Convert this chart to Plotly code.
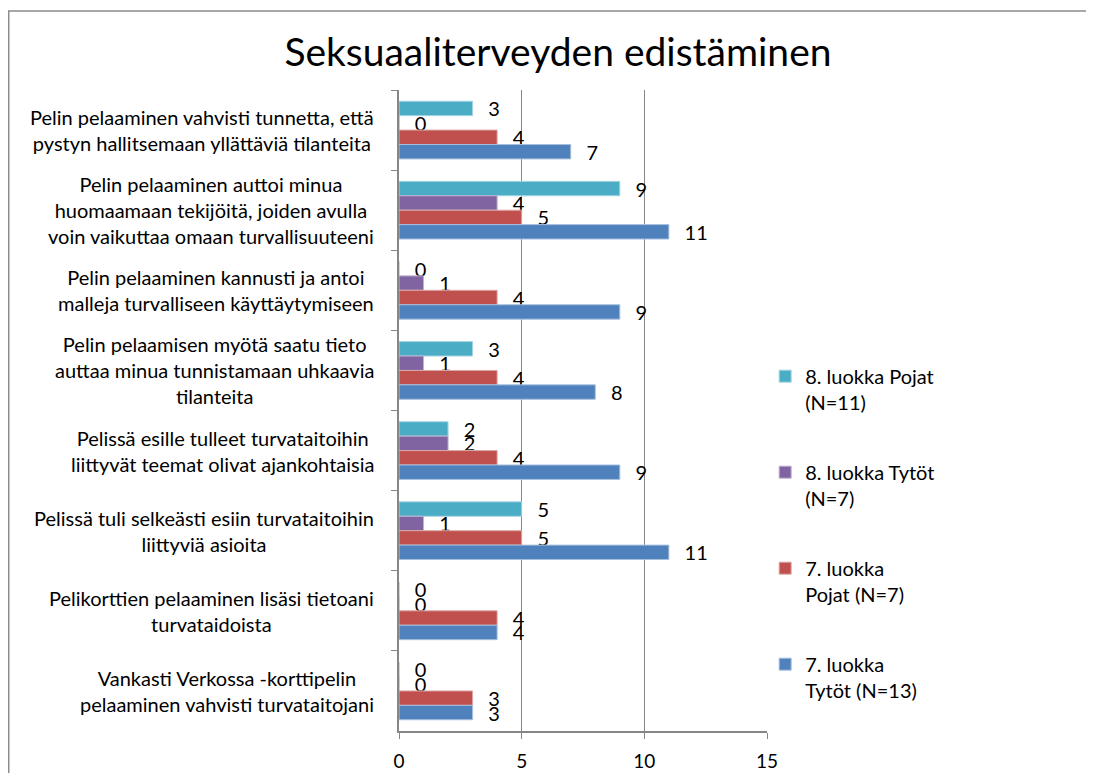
import plotly.graph_objects as go

# Categories, top to bottom
categories = [
    "Pelin pelaaminen vahvisti tunnetta, että<br>pystyn hallitsemaan yllättäviä tilanteita",
    "Pelin pelaaminen auttoi minua<br>huomaamaan tekijöitä, joiden avulla<br>voin vaikuttaa omaan turvallisuuteeni",
    "Pelin pelaaminen kannusti ja antoi<br>malleja turvalliseen käyttäytymiseen",
    "Pelin pelaamisen myötä saatu tieto<br>auttaa minua tunnistamaan uhkaavia<br>tilanteita",
    "Pelissä esille tulleet turvataitoihin<br>liittyvät teemat olivat ajankohtaisia",
    "Pelissä tuli selkeästi esiin turvataitoihin<br>liittyviä asioita",
    "Pelikorttien pelaaminen lisäsi tietoani<br>turvataidoista",
    "Vankasti Verkossa -korttipelin<br>pelaaminen vahvisti turvataitojani",
]

# Series values
pojat_8 = [3, 9, 0, 3, 2, 5, 0, 0]
tytot_8 = [0, 4, 1, 1, 2, 1, 0, 0]
pojat_7 = [4, 5, 4, 4, 4, 5, 4, 3]
tytot_7 = [7, 11, 9, 8, 9, 11, 4, 3]

series_names = [
    "8. luokka Pojat<br>(N=11)",
    "8. luokka Tytöt<br>(N=7)",
    "7. luokka<br>Pojat (N=7)",
    "7. luokka<br>Tytöt (N=13)",
]
x_ticks = [0, 5, 10, 15]

FONT = "Lato, 'Open Sans', sans-serif"
colors = ["#4BACC6", "#8064A2", "#C0504D", "#4F81BD"]
edges = ["#A5D5E2", "#BFB1D0", "#DFA7A6", "#A7C0DE"]

fig = go.Figure()
for i, (name, vals) in enumerate(zip(series_names, [pojat_8, tytot_8, pojat_7, tytot_7])):
    fig.add_trace(go.Bar(
        x=vals,
        y=categories,
        name=name,
        orientation="h",
        legendgroup=f"g{i}",
        marker=dict(color=colors[i], line=dict(color=edges[i], width=1)),
        texttemplate="\u00a0\u00a0\u2009%{x}",
        textposition="outside",
        constraintext="none",
        cliponaxis=False,
        textfont=dict(family=FONT, size=20, color="#000000"),
    ))

# category labels: right-aligned block, centred lines (Excel style)
for cat in categories:
    fig.add_annotation(
        x=-0.0625, xref="paper", xanchor="right",
        y=cat, yref="y", yanchor="middle",
        text=cat, align="center", showarrow=False,
        font=dict(family=FONT, size=20, color="#000000"),
    )

# outer chart frame (only top and left edges fall inside the picture)
fig.add_shape(
    type="rect", xref="paper", yref="paper",
    x0=-1.0605, x1=1.9, y0=-0.2, y1=1.1232,
    line=dict(color="#8C8C8C", width=1.5), layer="above",
)

fig.update_layout(
    width=1086,
    height=765,
    autosize=False,
    margin=dict(l=391, r=327, t=82, b=42, autoexpand=False),
    paper_bgcolor="white",
    plot_bgcolor="white",
    barmode="group",
    bargap=0.28,
    bargroupgap=0,
    title=dict(
        text="Seksuaaliterveyden edistäminen",
        x=0.5064, xref="container", xanchor="center",
        y=0.9425, yref="container", yanchor="middle",
        font=dict(family=FONT, size=39, color="#000000"),
    ),
    font=dict(family=FONT, size=20, color="#000000"),
    legend=dict(
        x=0.995, xanchor="left",
        y=0.584, yanchor="top",
        valign="top",
        tracegroupgap=41,
        font=dict(family=FONT, size=20, color="#000000"),
        bgcolor="rgba(0,0,0,0)",
    ),
    xaxis=dict(
        range=[0, 15],
        tickvals=x_ticks,
        automargin=False,
        showgrid=True, gridcolor="#868686", gridwidth=1,
        zeroline=False,
        showline=True, linecolor="#868686", linewidth=1.5,
        ticks="outside", ticklen=6, tickcolor="#868686",
        ticklabelstandoff=6,
        tickfont=dict(family=FONT, size=19, color="#000000"),
    ),
    yaxis=dict(
        type="category",
        autorange="reversed",
        automargin=False,
        showticklabels=False,
        tickson="boundaries",
        ticks="outside", ticklen=6, tickcolor="#868686",
        showline=True, linecolor="#868686", linewidth=1.5,
        showgrid=False, zeroline=False,
    ),
)

fig.write_html("out.html")
